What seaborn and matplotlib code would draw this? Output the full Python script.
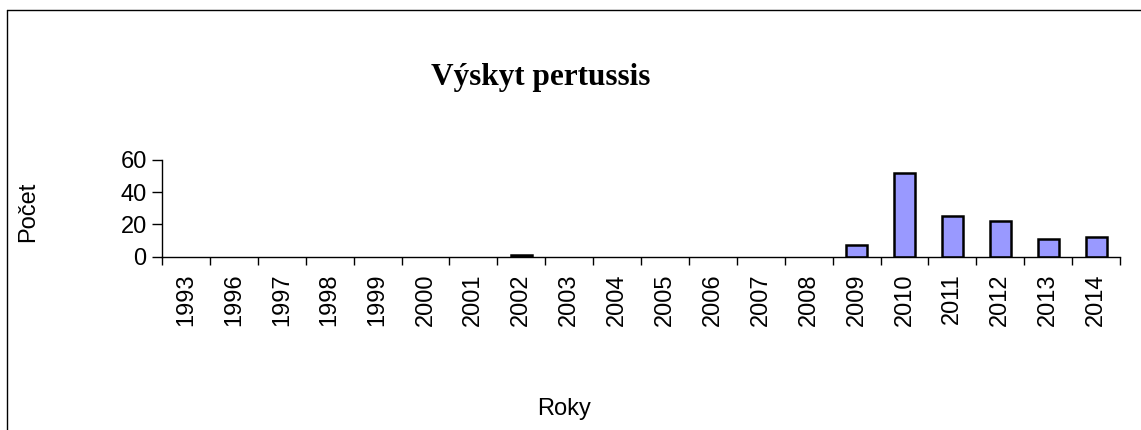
import matplotlib
matplotlib.use("Agg")
import matplotlib.pyplot as plt
from matplotlib.lines import Line2D
import seaborn as sns
import pandas as pd

years = ["1993", "1996", "1997", "1998", "1999", "2000", "2001", "2002", "2003", "2004",
         "2005", "2006", "2007", "2008", "2009", "2010", "2011", "2012", "2013", "2014"]
counts = [0, 0, 0, 0, 0, 0, 0, 1, 0, 0, 0, 0, 0, 0, 7, 52, 25, 22, 11, 12]

title = "Výskyt pertussis"
xlabel = "Roky"
ylabel = "Počet"

sns.set_theme(style="white")
plt.rcParams['font.family'] = ['Liberation Sans', 'DejaVu Sans']
plt.rcParams['text.color'] = 'black'
plt.rcParams['xtick.color'] = 'black'
plt.rcParams['ytick.color'] = 'black'

df = pd.DataFrame({"year": years, "count": counts})

fig = plt.figure(figsize=(11.41, 4.30), dpi=100)
ax = fig.add_axes([0.142, 0.403, 0.8396, 0.225])

sns.barplot(data=df, x="year", y="count", color="#9999FF", width=0.44,
            edgecolor="black", linewidth=1.8, saturation=1, ax=ax)
for p in ax.patches:
    if p.get_height() == 0:
        p.set_visible(False)

ax.set_ylim(0, 60)
ax.set_xlim(-0.5, len(years) - 0.5)
ax.set_yticks([0, 20, 40, 60])
ax.tick_params(axis="y", labelsize=17, length=7, width=1, colors="black", left=True, pad=4)
ax.set_xticks(range(len(years)))
ax.set_xticklabels(years, rotation=90)
ax.tick_params(axis="x", labelsize=17, length=0, pad=12, labelcolor="black")
ax.set_xticks([i - 0.5 for i in range(len(years) + 1)], minor=True)
ax.tick_params(axis="x", which="minor", length=6, width=1, color="black", bottom=True)

for s in ["top", "right"]:
    ax.spines[s].set_visible(False)
for s in ["left", "bottom"]:
    ax.spines[s].set_color("black")
    ax.spines[s].set_linewidth(1)

ax.set_xlabel("")
ax.set_ylabel("")

fig.text(0.474, 0.82, title, ha="center", va="center", fontsize=22.5, fontweight="bold",
         color="black", family=["Liberation Serif", "DejaVu Serif"])
fig.text(0.025, 0.508, ylabel, ha="center", va="center", rotation=90, fontsize=17, color="black")
fig.text(0.494, 0.048, xlabel, ha="center", va="center", fontsize=17, color="black")

fig.add_artist(Line2D([7 / 1141, 7 / 1141], [0, 1 - 10 / 430], transform=fig.transFigure,
                      color="black", linewidth=1))
fig.add_artist(Line2D([7 / 1141, 1], [1 - 10 / 430, 1 - 10 / 430], transform=fig.transFigure,
                      color="black", linewidth=1))

fig.savefig("out.png", dpi=100)
